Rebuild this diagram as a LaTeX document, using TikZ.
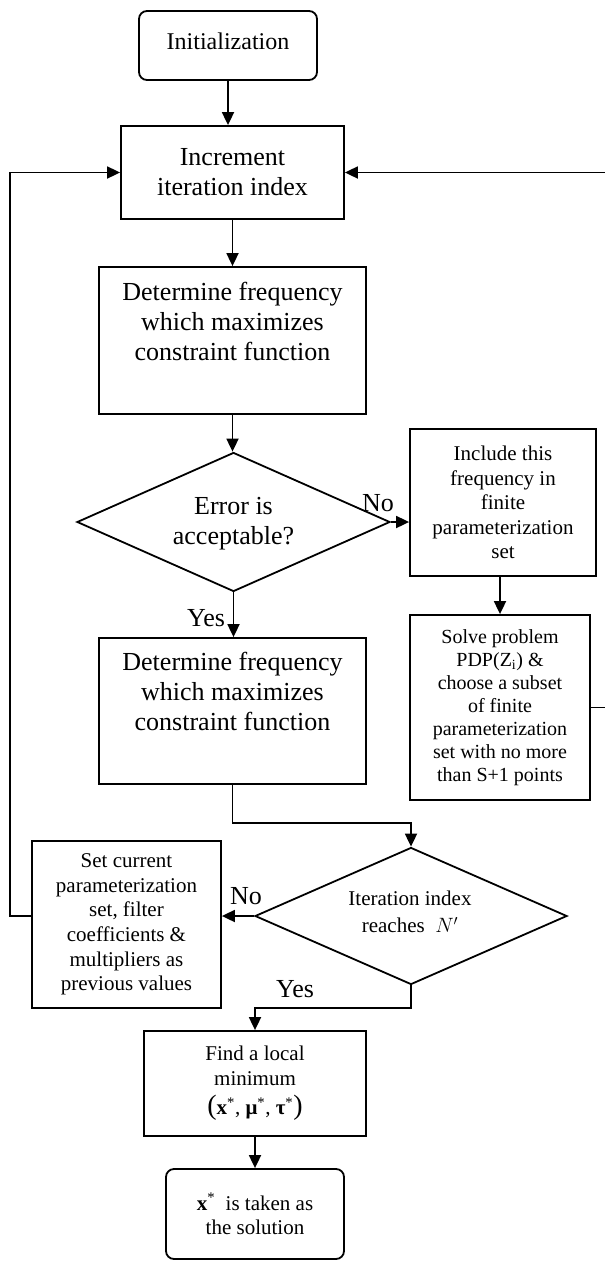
\documentclass[tikz,border=0pt]{standalone}
\usepackage{fontspec}
\setmainfont{Liberation Serif}
\usepackage{amsmath}
\usetikzlibrary{arrows.meta,shapes.geometric}
\newcommand{\bigparen}[1]{{\fontsize{28}{28}\selectfont #1}}
\begin{document}
\begin{tikzpicture}[x=1pt,y=-1pt,line width=1.8pt,
  box/.style={draw,rectangle,inner sep=0pt,align=center},
  big/.style={font=\fontsize{26}{30}\selectfont},
  small/.style={font=\fontsize{21}{24.6}\selectfont},
  smaller/.style={font=\fontsize{20}{23}\selectfont},
  lbl/.style={font=\fontsize{26}{30}\selectfont,inner sep=0pt},
  arr/.style={-{Triangle[length=13pt,width=12pt]}}]
\useasboundingbox (0,0) rectangle (605,1261);
% boxes
\node[box,rounded corners=8pt,minimum width=178pt,minimum height=69pt,font=\fontsize{24}{28}\selectfont] (init) at (228,45.5) {\raisebox{9pt}{Initialization}};
\node[box,big,minimum width=223pt,minimum height=93pt] (inc) at (232.5,172.5) {Increment\\iteration index};
\node[box,big,minimum width=267pt,minimum height=147pt] (det1) at (232.5,340.5) {Determine frequency\\which maximizes\\constraint function\\\strut};
\node[draw,diamond,minimum width=313pt,minimum height=139pt,inner sep=0pt] (d1) at (233.5,522) {};
\node[big,align=center] (d1t) at (233.5,524) {Error is\\acceptable?};
\node[box,small,minimum width=186pt,minimum height=147pt] (incl) at (503,502.5) {Include this\\frequency in\\finite\\parameterization\\set};
\node[box,smaller,minimum width=180pt,minimum height=185pt] (solve) at (500,707.5) {Solve problem\\PDP(Z\textsubscript{i}) \&\\choose a subset\\of finite\\parameterization\\set with no more\\than S+1 points};
\node[box,big,minimum width=267pt,minimum height=146pt] (det2) at (232.5,711) {Determine frequency\\which maximizes\\constraint function\\\strut};
\node[draw,diamond,minimum width=312pt,minimum height=137pt,inner sep=0pt] (d2) at (411,916) {};
\node[font=\fontsize{21}{25}\selectfont,align=center] (d2t) at (410,912) {Iteration index\\[2pt]reaches\ \ {\fontsize{22}{22}\selectfont$N'$}};
\node[box,small,minimum width=189pt,minimum height=167pt] (set) at (126.5,924.5) {Set current\\parameterization\\set, filter\\coefficients \&\\multipliers as\\previous values};
\node[box,small,minimum width=222pt,minimum height=105pt] (find) at (255,1083.5) {};
\node[small,align=center] (findt) at (255,1066) {Find a local\\minimum};
\node[small,inner sep=0pt] (findm) at (255,1108) {\bigparen{(}\textbf{x}\textsuperscript{*}, \textbf{μ}\textsuperscript{*}, \textbf{τ}\textsuperscript{*}\bigparen{)}};
\node[box,small,rounded corners=8pt,minimum width=178pt,minimum height=90pt] (final) at (255,1214) {\textbf{x}\textsuperscript{*}\ \ is taken as\\the solution};
% labels
\node[lbl] (no1) at (378,503) {No};
\node[lbl] (yes1) at (206,618) {Yes};
\node[lbl] (no2) at (246,896) {No};
\node[lbl] (yes2) at (295,989) {Yes};
% helper coordinates
\coordinate (c1) at (411,823);
\coordinate (c2) at (255,1008);
\coordinate (lx) at (10,0);
\coordinate (rx) at (612,0);
% connectors
\draw[arr] (init.south) -- (init.south |- inc.north);
\draw[arr] (inc.south) -- (inc.south |- det1.north);
\draw[arr] (det1.south) -- (det1.south |- d1.north);
\draw[arr] (d1.east) -- (d1.east -| incl.west);
\draw[arr] (incl.south -| solve.north) -- (solve.north);
\draw[arr] (d1.south) -- (d1.south |- det2.north);
\draw[arr] (det2.south) |- (c1) -- (d2.north);
\draw[arr] (d2.west) -- (d2.west -| set.east);
\draw[arr] (d2.south) |- (c2) -- (find.north);
\draw[arr] (find.south) -- (final.north);
\draw[arr] (set.west |- d2.west) -- (lx |- d2.west) |- (inc.west);
\draw[arr] (solve.east) -- (rx |- solve.east) |- (inc.east);
\end{tikzpicture}
\end{document}
